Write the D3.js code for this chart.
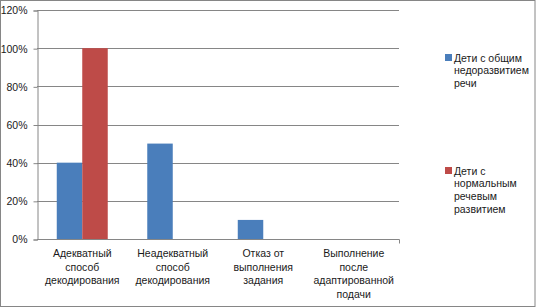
<!DOCTYPE html>
<html lang="ru">
<head>
  <meta charset="UTF-8">
  <script type="text/javascript" src="https://cdn.jsdelivr.net/npm/d3@7/dist/d3.min.js"></script>
  <style>
    body { margin: 0; background: #fff; }
    text { font-family: "Liberation Sans", Arial, sans-serif; font-size: 10.5px; fill: #1a1a1a; }
  </style>
</head>
<body>
<svg></svg>
<script type="text/javascript">
  // chart data
  var categories = ["Адекватный способ декодирования", "Неадекватный способ декодирования",
                    "Отказ от выполнения задания", "Выполнение после адаптированной подачи"];
  var categoryLines = [["Адекватный", "способ", "декодирования"],
                       ["Неадекватный", "способ", "декодирования"],
                       ["Отказ от", "выполнения", "задания"],
                       ["Выполнение", "после", "адаптированной", "подачи"]];
  var seriesNames = ["Дети с общим недоразвитием речи", "Дети с нормальным речевым развитием"];
  var legendLines = [["Дети с общим", "недоразвитием", "речи"],
                     ["Дети с", "нормальным", "речевым", "развитием"]];
  var onrValues = [0.40, 0.50, 0.10, 0];
  var normValues = [1.00, 0, 0, 0];
  var yTicks = [0, 0.2, 0.4, 0.6, 0.8, 1.0, 1.2];
  var colors = ["#4a7ebb", "#be4b48"];

  var W = 536, H = 308;
  var margin = {top: 10, right: 137, bottom: 69, left: 37};

  var svg = d3.select("svg").attr("width", W).attr("height", H);

  // outer border of the chart
  svg.append("rect")
    .attr("x", 0.5).attr("y", 0.5)
    .attr("width", W - 1.5).attr("height", H - 2)
    .attr("fill", "none").attr("stroke", "#868686");

  var data = categories.map(function(c, i) {
    return {cat: c, lines: categoryLines[i], vals: [onrValues[i], normValues[i]]};
  });

  var x0 = d3.scaleBand()
    .domain(categories)
    .range([margin.left, W - margin.right])
    .padding(0);

  var x1 = d3.scaleBand()
    .domain(seriesNames)
    .range([0, x0.bandwidth()])
    .paddingInner(0)
    .paddingOuter(0.775);

  var y = d3.scaleLinear()
    .domain([0, 1.2])
    .range([H - margin.bottom, margin.top]);

  // gridlines
  svg.append("g").selectAll("line")
    .data(yTicks.slice(1))
    .enter().append("line")
    .attr("x1", margin.left).attr("x2", W - margin.right)
    .attr("y1", function(d) { return Math.round(y(d)) + 0.5; })
    .attr("y2", function(d) { return Math.round(y(d)) + 0.5; })
    .attr("stroke", "#868686");

  // bars
  var group = svg.append("g").selectAll("g")
    .data(data)
    .enter().append("g")
    .attr("transform", function(d) { return "translate(" + x0(d.cat) + ",0)"; });

  group.selectAll("rect")
    .data(function(d) { return d.vals.map(function(v, i) { return {s: seriesNames[i], v: v, i: i}; }); })
    .enter().append("rect")
    .attr("x", function(d) { return x1(d.s); })
    .attr("width", x1.bandwidth())
    .attr("y", function(d) { return y(d.v); })
    .attr("height", function(d) { return y(0) - y(d.v); })
    .attr("fill", function(d) { return colors[d.i]; });

  // y axis
  var yAxis = d3.axisLeft(y)
    .tickValues(yTicks)
    .tickSize(4)
    .tickPadding(6)
    .tickFormat(d3.format(".0%"));

  var ya = svg.append("g")
    .attr("transform", "translate(" + (margin.left + 0.5) + ",0.5)")
    .call(yAxis);
  ya.selectAll("path, line").attr("stroke", "#868686");
  ya.selectAll("text").style("font-family", null).attr("font-size", null).attr("fill", null);
  ya.attr("font-family", null).attr("font-size", null);

  // x axis line with a tick at the end
  var xa = svg.append("g");
  var y0 = Math.round(y(0)) + 0.5;
  xa.append("line")
    .attr("x1", margin.left).attr("x2", W - margin.right + 0.5)
    .attr("y1", y0).attr("y2", y0)
    .attr("stroke", "#868686");
  xa.append("line")
    .attr("x1", W - margin.right + 0.5).attr("x2", W - margin.right + 0.5)
    .attr("y1", y0).attr("y2", y0 + 4)
    .attr("stroke", "#868686");

  // category labels
  var lbl = xa.selectAll("text.cat")
    .data(data)
    .enter().append("text")
    .attr("class", "cat")
    .attr("text-anchor", "middle")
    .attr("x", function(d) { return x0(d.cat) + x0.bandwidth() / 2; })
    .attr("y", 257);
  lbl.selectAll("tspan")
    .data(function(d) { return d.lines; })
    .enter().append("tspan")
    .attr("x", function() { var p = this.parentNode; return p.getAttribute("x"); })
    .attr("dy", function(d, i) { return i === 0 ? 0 : 13.6; })
    .text(function(d) { return d; });

  // legend
  var legendY = [58, 171];
  var leg = svg.append("g").selectAll("g")
    .data(seriesNames)
    .enter().append("g");
  leg.append("rect")
    .attr("x", 445).attr("y", function(d, i) { return legendY[i] - 4; })
    .attr("width", 7).attr("height", 7)
    .attr("fill", function(d, i) { return colors[i]; });
  var lt = leg.append("text")
    .attr("x", 454)
    .attr("y", function(d, i) { return legendY[i] + 3.5; });
  lt.selectAll("tspan")
    .data(function(d, i) { return legendLines[i]; })
    .enter().append("tspan")
    .attr("x", 454)
    .attr("dy", function(d, i) { return i === 0 ? 0 : 12.8; })
    .text(function(d) { return d; });
</script>
</body>
</html>
